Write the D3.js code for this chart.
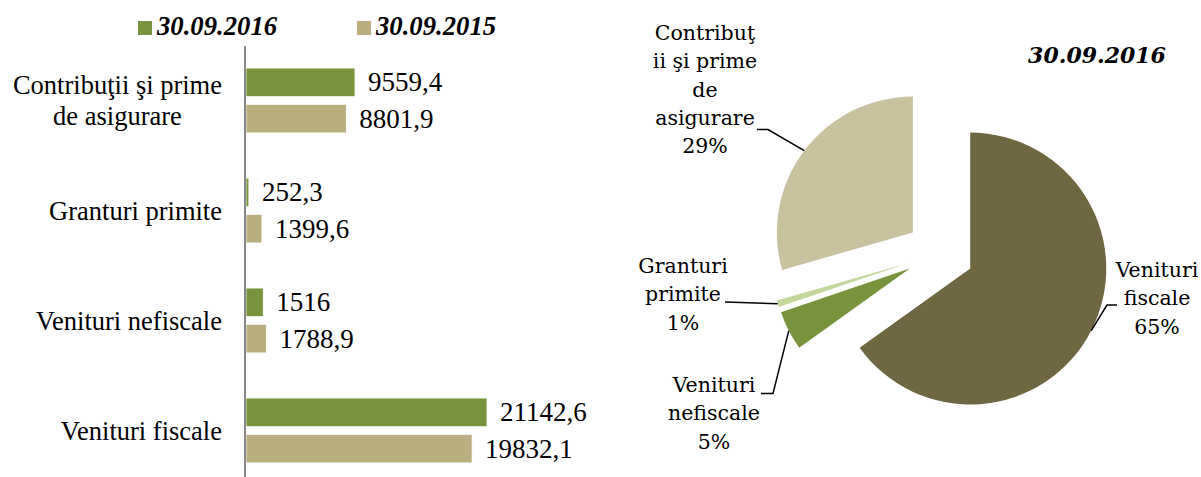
<!DOCTYPE html>
<html>
<head>
<meta charset="utf-8">
<script src="https://cdn.jsdelivr.net/npm/d3@7/dist/d3.min.js"></script>
<style>
  body { margin: 0; background: #fff; }
  svg { display: block; }
</style>
</head>
<body>
<div id="chart"></div>
<script>
// data
var categories = ["Contribuţii şi prime de asigurare", "Granturi primite", "Venituri nefiscale", "Venituri fiscale"];
var categoryLines = [["Contribuţii şi prime", "de asigurare"], ["Granturi primite"], ["Venituri nefiscale"], ["Venituri fiscale"]];
var series = ["30.09.2016", "30.09.2015"];
var values2016 = [9559.4, 252.3, 1516, 21142.6];
var values2015 = [8801.9, 1399.6, 1788.9, 19832.1];

// pie goes clockwise from 12 o'clock: fiscale, nefiscale, granturi, contributii
var pieOrder = [3, 2, 1, 0];
var pieLabelLines = [["Contribuţ", "ii şi prime", "de", "asigurare"], ["Granturi", "primite"], ["Venituri", "nefiscale"], ["Venituri", "fiscale"]];
var pieTitle = "30.09.2016";

var barColors = ["#77933c", "#b8ae7f"];
var pieColors = ["#c8c29f", "#c3d69b", "#77933c", "#6f6741"];

var W = 1201, H = 477;
var svg = d3.select("#chart").append("svg")
  .attr("width", W)
  .attr("height", H);

// ---------- bar chart ----------
var x = d3.scaleLinear()
  .domain([0, 25000])
  .range([246, 531]);

var y = d3.scaleBand()
  .domain(categories)
  .range([45.5, 485.5])
  .paddingInner(0.41)
  .paddingOuter(0.205);

var ySub = d3.scaleBand()
  .domain(series)
  .range([0, y.bandwidth()])
  .paddingInner(0.21);

var rows = categories.map(function(c, i) {
  return { cat: c, lines: categoryLines[i], vals: [values2016[i], values2015[i]] };
});

var serif = "'Liberation Serif', 'Times New Roman', serif";
var fmt = function(v) { return String(v).replace(".", ","); };

var bars = svg.append("g");
rows.forEach(function(r) {
  r.vals.forEach(function(v, j) {
    var y0 = y(r.cat) + ySub(series[j]);
    bars.append("rect")
      .attr("x", x(0))
      .attr("y", y0)
      .attr("width", x(v) - x(0))
      .attr("height", ySub.bandwidth())
      .attr("fill", barColors[j])
      .attr("stroke", "#fff")
      .attr("stroke-width", 0.8);
    bars.append("text")
      .attr("x", x(v) + 13)
      .attr("y", y0 + ySub.bandwidth() / 2 + 9)
      .style("font", "27px " + serif)
      .attr("fill", "#000")
      .text(fmt(v));
  });
});

// axis line
svg.append("line")
  .attr("x1", 245).attr("x2", 245)
  .attr("y1", 46).attr("y2", H)
  .attr("stroke", "#868686")
  .attr("stroke-width", 2);

// category labels (multi line ones centred under the right-aligned block)
var labelRight = 222;
rows.forEach(function(r) {
  var cy = y(r.cat) + y.bandwidth() / 2;
  var g = svg.append("g");
  var texts = r.lines.map(function(l, k) {
    return g.append("text")
      .attr("y", cy + 9 + (k - (r.lines.length - 1) / 2) * 30.5)
      .style("font", "26.5px " + serif)
      .attr("text-anchor", "middle")
      .text(l);
  });
  var wMax = d3.max(texts, function(t) { return t.node().getComputedTextLength(); });
  texts.forEach(function(t) { t.attr("x", labelRight - wMax / 2); });
});

// legend
var legX = [138, 357];
series.forEach(function(s, j) {
  svg.append("rect")
    .attr("x", legX[j]).attr("y", 21)
    .attr("width", 14).attr("height", 14)
    .attr("fill", barColors[j]);
  svg.append("text")
    .attr("x", legX[j] + 19)
    .attr("y", 34.5)
    .style("font", "italic bold 26.7px " + serif)
    .text(s);
});

// ---------- pie chart ----------
var pieCx = 940, pieCy = 253, R = 136, explode = 34;
var total = d3.sum(values2016);

var pieData = pieOrder.map(function(i) {
  return { cat: categories[i], value: values2016[i], lines: pieLabelLines[i], color: pieColors[i] };
});

var pie = d3.pie()
  .sort(null)
  .value(function(d) { return d.value; });

var arc = d3.arc().innerRadius(0).outerRadius(R);

// label layout: text centre x, first baseline, leader start and elbow
var pieLayout = {
  "Venituri fiscale": { tx: 1157, ty: 277, p0: [1117, 305], p1: [1107, 305] },
  "Venituri nefiscale": { tx: 714, ty: 392, p0: [761, 393.5], p1: [773, 393.5] },
  "Granturi primite": { tx: 683, ty: 273, p0: [725, 302], p1: [725, 302] },
  "Contribuţii şi prime de asigurare": { tx: 705, ty: 40, p0: [757, 129.5], p1: [768, 129.5] }
};

var pieFont = "20.5px 'DejaVu Serif', serif";
var pg = svg.append("g").attr("transform", "translate(" + pieCx + "," + pieCy + ")");

pie(pieData).forEach(function(a) {
  var mid = (a.startAngle + a.endAngle) / 2;
  var ox = Math.sin(mid) * explode, oy = -Math.cos(mid) * explode;
  pg.append("path")
    .attr("transform", "translate(" + ox + "," + oy + ")")
    .attr("d", arc(a))
    .attr("fill", a.data.color);

  var lay = pieLayout[a.data.cat];
  var ex = pieCx + ox + Math.sin(mid) * R, ey = pieCy + oy - Math.cos(mid) * R;
  svg.append("polyline")
    .attr("points", [lay.p0, lay.p1, [ex, ey]].map(function(p) { return p.join(","); }).join(" "))
    .attr("fill", "none")
    .attr("stroke", "#000")
    .attr("stroke-width", 1.5);

  var lines = a.data.lines.concat([Math.round(a.data.value / total * 100) + "%"]);
  lines.forEach(function(l, k) {
    svg.append("text")
      .attr("x", lay.tx)
      .attr("y", lay.ty + k * 28.3)
      .attr("text-anchor", "middle")
      .style("font", pieFont)
      .text(l);
  });
});

svg.append("text")
  .attr("x", 1097)
  .attr("y", 63)
  .attr("text-anchor", "middle")
  .style("font", "italic bold 22px 'DejaVu Serif', serif")
  .text(pieTitle);
</script>
</body>
</html>
